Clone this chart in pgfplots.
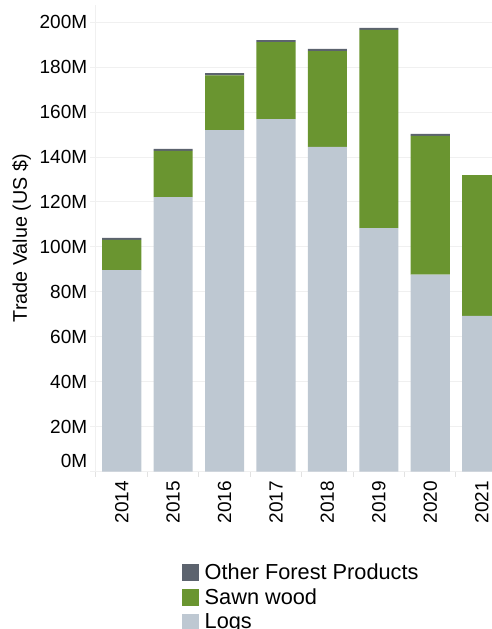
\documentclass[border=0pt]{standalone}
\usepackage{pgfplots}
\pgfplotsset{compat=1.18}
\usepackage{fontspec}
\setmainfont{Liberation Sans}

\definecolor{logs}{HTML}{BEC8D2}
\definecolor{sawn}{HTML}{6A9530}
\definecolor{other}{HTML}{5C636E}
\definecolor{gridc}{HTML}{F0F0F0}
\definecolor{axisc}{HTML}{E2E2E2}

% values in million US$
\pgfplotstableread{
x logs sawn other
0 89.7 13.4 0.9
1 122.2 20.5 0.9
2 152.0 24.4 0.9
3 156.9 34.3 0.9
4 144.5 42.7 0.9
5 108.4 88.2 0.9
6 87.6 61.8 0.9
7 69.3 62.7 0.0
}\data

\pgfplotsset{sq legend/.style={legend image code/.code={\fill[##1] (0pt,-6.375pt) rectangle (12.75pt,6.375pt);}}}

\begin{document}
\begin{tikzpicture}
\useasboundingbox (-72pt,-118.125pt) rectangle (297pt,353.625pt);
\begin{axis}[
    at={(0,0)}, anchor=south west,
    scale only axis, width=297pt, height=349.9pt,
    ybar stacked, bar width=0.76,
    xmin=-0.5, xmax=7.2, ymin=0, ymax=207.7,
    axis x line*=bottom, axis y line*=left,
    x axis line style={axisc, line width=0.75pt, -},
    y axis line style={gridc, line width=0.75pt, -},
    tick align=outside,
    major tick length=4.5pt, minor tick length=3.75pt,
    xtick={0,...,7},
    xticklabels={2014,2015,2016,2017,2018,2019,2020,2021},
    minor xtick={-0.5,0.5,...,6.5},
    major x tick style={draw=none},
    minor x tick style={axisc, line width=0.75pt},
    ytick={20,40,...,200},
    yticklabels={20M,40M,60M,80M,100M,120M,140M,160M,180M,200M},
    extra y ticks={0}, extra y tick labels={0M},
    extra y tick style={yticklabel style={yshift=8.25pt}},
    ytick style={gridc, line width=0.75pt},
    ymajorgrids=true,
    grid style={gridc, line width=0.75pt},
    tick label style={font=\fontsize{14.25}{16}\selectfont, text=black},
    xticklabel style={rotate=90, anchor=east, inner sep=0pt},
    yticklabel style={anchor=east, inner sep=0pt},
    xticklabel shift=2.6pt, yticklabel shift=1.9pt,
    ylabel={Trade Value (US \$)},
    ylabel style={at={(axis description cs:-0.1876,0.5)}, anchor=center, font=\fontsize{14.8}{17}\selectfont},
    reverse legend,
    legend style={at={(axis description cs:0.2172,-0.1915)}, anchor=north west,
        draw=none, fill=none, inner sep=0pt, outer sep=0pt,
        font=\fontsize{16.3}{18}\selectfont, row sep=1.5pt,
        /tikz/every odd column/.style={column sep=2.3pt}},
    legend cell align=left,
]
\addplot[fill=logs, draw=none, sq legend] table[x=x, y=logs] {\data};
\addplot[fill=sawn, draw=none, sq legend] table[x=x, y=sawn] {\data};
\addplot[fill=other, draw=none, sq legend] table[x=x, y=other] {\data};
\legend{Logs, Sawn wood, Other Forest Products}
\end{axis}
\end{tikzpicture}
\end{document}
